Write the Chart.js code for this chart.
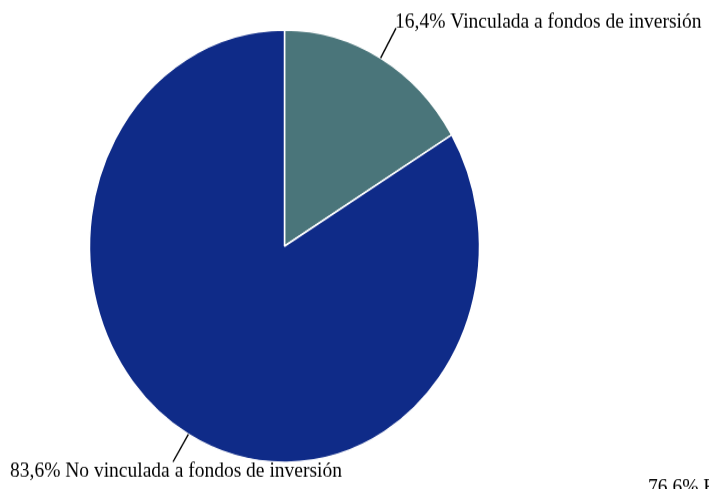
<!DOCTYPE html>
<html>
<head>
<meta charset="utf-8">
<script src="https://cdn.jsdelivr.net/npm/chart.js@4/dist/chart.umd.min.js"></script>
<style>
  html { margin: 0; padding: 0; background: #ffffff; overflow: hidden; }
  body { margin: 0; padding: 0; background: #ffffff; width: 709px; height: 489px; }
  #wrap { width: 709px; height: 441px; transform: scale(1, 1.1088); transform-origin: 0 0; }
</style>
</head>
<body>
<div id="wrap"><canvas id="c" width="709" height="441"></canvas></div>
<script>
// ---- data ----
const categories = ['Vinculada a fondos de inversión', 'No vinculada a fondos de inversión'];
const shares = [16.4, 83.6];
const sliceColors = ['#4a757a', '#0f2b88'];
const strayLabel = '76,6% F';

// ---- label layout (positions in canvas px, unscaled) ----
const labelLayout = [
  { textX: 395, textY: 24.5, lineEndX: 396, lineEndY: 25.3 },
  { textX: 10, textY: 429.5, lineEndX: 173, lineEndY: 416.5 }
];
const strayLayout = { x: 648, y: 444.5 };

function fmt(v) { return v.toFixed(1).replace('.', ',') + '%'; }

const labelPlugin = {
  id: 'pieLabels',
  afterDatasetsDraw(chart) {
    const ctx = chart.ctx;
    const meta = chart.getDatasetMeta(0);
    ctx.save();
    ctx.font = '19.5px "Liberation Serif", "Times New Roman", serif';
    ctx.fillStyle = '#000000';
    ctx.strokeStyle = '#000000';
    ctx.lineWidth = 1.4;
    ctx.textBaseline = 'alphabetic';
    ctx.textAlign = 'left';
    meta.data.forEach((arc, i) => {
      const p = arc.getProps(['x', 'y', 'startAngle', 'endAngle', 'outerRadius'], true);
      const mid = (p.startAngle + p.endAngle) / 2;
      const sx = p.x + Math.cos(mid) * p.outerRadius;
      const sy = p.y + Math.sin(mid) * p.outerRadius;
      const L = labelLayout[i];
      ctx.beginPath();
      ctx.moveTo(sx, sy);
      ctx.lineTo(L.lineEndX, L.lineEndY);
      ctx.stroke();
      ctx.fillText(fmt(shares[i]) + ' ' + categories[i], L.textX, L.textY);
    });
    ctx.fillText(strayLabel, strayLayout.x, strayLayout.y);
    ctx.restore();
  }
};

new Chart(document.getElementById('c'), {
  type: 'pie',
  data: {
    labels: categories,
    datasets: [{
      data: shares,
      backgroundColor: sliceColors,
      borderColor: '#ffffff',
      borderWidth: 1.5,
      hoverOffset: 0
    }]
  },
  options: {
    responsive: false,
    animation: false,
    events: [],
    radius: 195,
    layout: { padding: { left: 89.5, right: 229.5, top: 27, bottom: 24 } },
    plugins: {
      legend: { display: false },
      tooltip: { enabled: false }
    }
  },
  plugins: [labelPlugin]
});
</script>
</body>
</html>
